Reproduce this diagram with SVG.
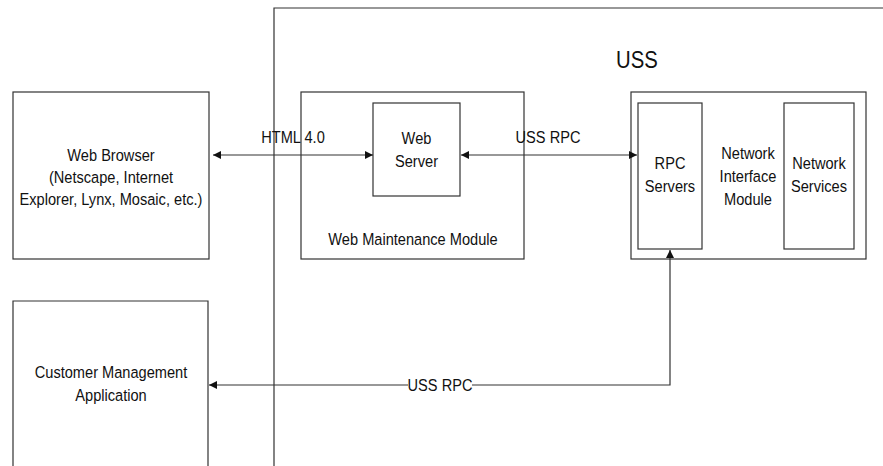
<svg xmlns="http://www.w3.org/2000/svg" width="883" height="466" viewBox="0 0 883 466">
<defs>
<style>
.box{fill:none;stroke:#333;stroke-width:1.2}
.ln{fill:none;stroke:#333;stroke-width:1.2}
.t{font-family:"Liberation Sans",Arial,sans-serif;font-size:16.5px;fill:#111;text-anchor:middle}
.big{font-size:23.5px}
</style>
<marker id="ah" viewBox="0 0 10 10" refX="10" refY="5" markerWidth="8" markerHeight="8" markerUnits="userSpaceOnUse" orient="auto-start-reverse">
<path d="M0,0 L10,5 L0,10 z" fill="#111"/>
</marker>
</defs>
<rect width="883" height="466" fill="#fff"/>

<g id="uss">
<path class="ln" d="M274,466 V8 H883"/>
<text class="t big" transform="translate(637,68) scale(0.865,1)">USS</text>
</g>

<g id="web-browser">
<rect class="box" x="13" y="92" width="196" height="167"/>
<text class="t" transform="translate(111,161) scale(0.885,1)">Web Browser</text>
<text class="t" transform="translate(111,183) scale(0.885,1)">(Netscape, Internet</text>
<text class="t" transform="translate(111,205) scale(0.885,1)">Explorer, Lynx, Mosaic, etc.)</text>
</g>

<g id="customer-management">
<path class="box" d="M13,466 V301 H208 V466"/>
<text class="t" transform="translate(111,378) scale(0.885,1)">Customer Management</text>
<text class="t" transform="translate(111,401) scale(0.885,1)">Application</text>
</g>

<g id="web-maintenance-module">
<rect class="box" x="301" y="92" width="223" height="167"/>
<text class="t" transform="translate(413,245) scale(0.885,1)">Web Maintenance Module</text>
</g>

<g id="web-server">
<rect class="box" x="373" y="103" width="87" height="93"/>
<text class="t" transform="translate(416.5,143.5) scale(0.885,1)">Web</text>
<text class="t" transform="translate(416.5,167) scale(0.885,1)">Server</text>
</g>

<g id="network-interface-module">
<rect class="box" x="631" y="92" width="235" height="167"/>
<text class="t" transform="translate(748,159) scale(0.885,1)">Network</text>
<text class="t" transform="translate(748,182) scale(0.885,1)">Interface</text>
<text class="t" transform="translate(748,205) scale(0.885,1)">Module</text>
</g>

<g id="rpc-servers">
<rect class="box" x="638" y="103" width="64" height="146"/>
<text class="t" transform="translate(670,169) scale(0.885,1)">RPC</text>
<text class="t" transform="translate(670,192) scale(0.885,1)">Servers</text>
</g>

<g id="network-services">
<rect class="box" x="784" y="103" width="70" height="146"/>
<text class="t" transform="translate(819,169) scale(0.885,1)">Network</text>
<text class="t" transform="translate(819,192) scale(0.885,1)">Services</text>
</g>

<g id="connectors">
<line class="ln" x1="213" y1="155" x2="373" y2="155" marker-start="url(#ah)" marker-end="url(#ah)"/>
<text class="t" transform="translate(293,143) scale(0.885,1)">HTML 4.0</text>
<line class="ln" x1="461" y1="155" x2="637" y2="155" marker-start="url(#ah)" marker-end="url(#ah)"/>
<text class="t" transform="translate(548,143) scale(0.885,1)">USS RPC</text>
<path class="ln" d="M408,385 H209" marker-end="url(#ah)"/>
<path class="ln" d="M472,385 H670 V250" marker-end="url(#ah)"/>
<text class="t" transform="translate(440,391) scale(0.885,1)">USS RPC</text>
</g>
</svg>
